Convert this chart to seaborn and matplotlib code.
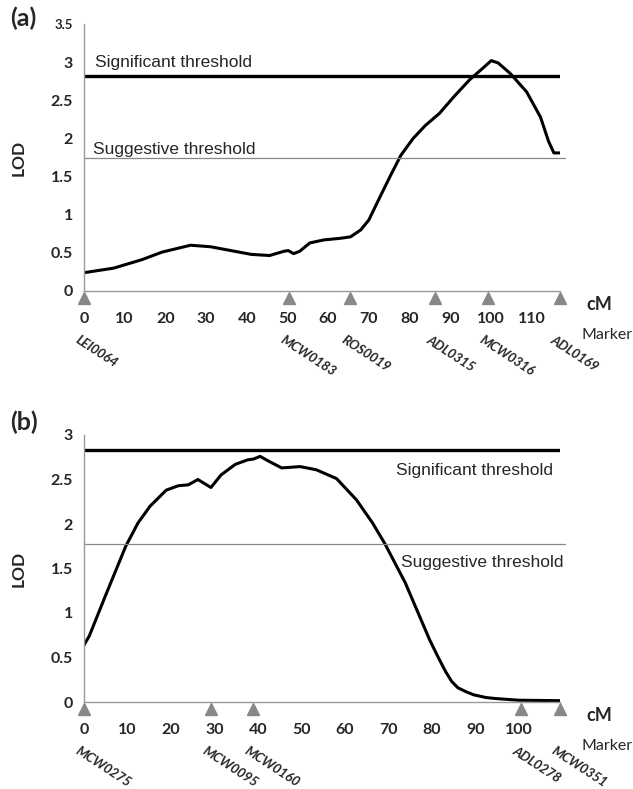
import matplotlib
matplotlib.use('Agg')
import matplotlib.pyplot as plt
from matplotlib.transforms import ScaledTranslation
import seaborn as sns
import pandas as pd
import numpy as np

# Panel (a) LOD profile
cm_a = [0, 7.3, 14.2, 19.2, 26.2, 31.1, 35.1, 41.1, 45.6, 49.1, 50.2, 51.5, 53.0, 55.5, 59.0,
        62.9, 65.5, 68.0, 70.0, 73.0, 75.4, 77.9, 80.9, 83.9, 87.4, 90.8, 94.8, 97.8, 100.1,
        101.8, 104.8, 108.8, 112.2, 114.2, 115.5, 116.9]
lod_a = [0.24, 0.30, 0.41, 0.51, 0.60, 0.58, 0.54, 0.48, 0.465, 0.52, 0.53, 0.49, 0.52, 0.63, 0.67,
         0.69, 0.71, 0.80, 0.93, 1.26, 1.52, 1.78, 2.00, 2.17, 2.33, 2.54, 2.77, 2.91, 3.02,
         2.99, 2.85, 2.61, 2.28, 1.96, 1.81, 1.81]
markers_a = ['LEI0064', 'MCW0183', 'ROS0019', 'ADL0315', 'MCW0316', 'ADL0169']
marker_cm_a = [0, 50.5, 65.4, 86.2, 99.3, 116.9]
sig_a, sug_a = 2.82, 1.74

# Panel (b) LOD profile
cm_b = [0, 1.2, 4.9, 9.6, 12.4, 15.2, 18.9, 21.7, 24.0, 26.2, 29.2, 31.5, 34.8, 37.6, 39.0,
        40.5, 42.7, 45.5, 49.7, 53.4, 58.1, 62.7, 66.4, 69.2, 73.9, 79.5, 81.4, 83.2, 84.6, 86.0,
        87.9, 89.7, 92.5, 94.4, 100.0, 109.5]
lod_b = [0.64, 0.74, 1.19, 1.75, 2.01, 2.20, 2.38, 2.43, 2.44, 2.50, 2.41, 2.55, 2.67, 2.72, 2.73,
         2.76, 2.70, 2.63, 2.645, 2.61, 2.51, 2.27, 2.01, 1.78, 1.34, 0.70, 0.51, 0.34, 0.23, 0.16,
         0.115, 0.08, 0.05, 0.04, 0.02, 0.015]
markers_b = ['MCW0275', 'MCW0095', 'MCW0160', 'ADL0278', 'MCW0351']
marker_cm_b = [0, 29.3, 38.8, 100.6, 109.5]
sig_b, sug_b = 2.83, 1.78

sns.set_style('white')
plt.rcParams['font.family'] = ['Liberation Sans', 'DejaVu Sans']

fig = plt.figure(figsize=(6.33, 7.89), dpi=100)
W, H = 633, 789
ax_a = fig.add_axes([84 / W, 1 - 291 / H, (560 - 84) / W, (291 - 24) / H])
ax_b = fig.add_axes([84 / W, 1 - 702 / H, (560 - 84) / W, (702 - 435) / H])


def draw_panel(ax, cm, lod, names, mpos, sig, sug, xmax, ymax, yticks, tag, tag_dy,
               sig_pos, sug_pos):
    df = pd.DataFrame({'cM': cm, 'LOD': lod})
    sns.lineplot(data=df, x='cM', y='LOD', ax=ax, color='black', lw=2.2)
    ax.axhline(sig, color='black', lw=2.4, xmax=1.0)
    ax.axhline(sug, color='#888888', lw=0.9, xmax=1.01, clip_on=False)
    ax.set_xlim(0, xmax)
    ax.set_ylim(0, ymax)
    ax.set_xticks(np.arange(0, xmax, 10))
    ax.set_yticks(yticks)
    ax.set_yticklabels([f'{t:g}' for t in yticks])
    for lab in ax.get_xticklabels() + ax.get_yticklabels():
        lab.set_fontfamily('Lato')
        lab.set_fontweight('bold')
        lab.set_fontsize(11.5)
    ax.tick_params(axis='x', direction='in', length=4, color='#888888', pad=15)
    ax.tick_params(axis='y', direction='out', length=4, color='#888888', pad=4)
    for s in ['top', 'right']:
        ax.spines[s].set_visible(False)
    for s in ['left', 'bottom']:
        ax.spines[s].set_color('#999999')
        ax.spines[s].set_linewidth(1)
    ax.set_xlabel('')
    ax.set_ylabel('LOD', fontdict=dict(family='Lato', weight='bold', size=12.5))
    ax.yaxis.set_label_coords(-0.12, 0.5)

    # marker triangles just below the axis
    trans = ax.get_xaxis_transform()
    ax.plot(mpos, [0] * len(mpos), linestyle='none', marker='^', ms=8.5,
            color='#888888', transform=trans + ScaledTranslation(0, -5 / 72, fig.dpi_scale_trans),
            clip_on=False)
    for name, x in zip(names, mpos):
        ax.annotate(name, xy=(x, 0), xycoords=trans, xytext=(-3, -31),
                    textcoords='offset points', rotation=-33, rotation_mode='anchor',
                    ha='left', va='top', fontstyle='italic', fontweight='bold',
                    fontsize=9.5, family='Lato')
    ax.annotate('cM', xy=(1, 0), xycoords='axes fraction', xytext=(28, -10),
                textcoords='offset points', ha='center', va='center',
                fontsize=13, weight='bold', family='Lato')
    ax.annotate('Marker', xy=(1, 0), xycoords='axes fraction', xytext=(52, -32),
                textcoords='offset points', ha='right', va='center',
                fontsize=11.5, family='Lato')
    ax.annotate(tag, xy=(0, 1), xycoords='axes fraction', xytext=(-53, tag_dy),
                textcoords='offset points', ha='left', va='center',
                fontsize=18, weight='bold', family='Lato')
    ax.text(sig_pos[0], sig_pos[1], 'Significant threshold', fontsize=12.5, va='center')
    ax.text(sug_pos[0], sug_pos[1], 'Suggestive threshold', fontsize=12.5, va='center')


draw_panel(ax_a, cm_a, lod_a, markers_a, marker_cm_a, sig_a, sug_a, 117, 3.5,
           [0, 0.5, 1, 1.5, 2, 2.5, 3, 3.5], '(a)', 4, (2.7, 2.99), (2.2, 1.86))
ax_a.get_yticklabels()[-1].set_fontsize(9.5)
draw_panel(ax_b, cm_b, lod_b, markers_b, marker_cm_b, sig_b, sug_b, 109.5, 3.0,
           [0, 0.5, 1, 1.5, 2, 2.5, 3], '(b)', 9, (71.7, 2.6), (73.0, 1.57))

fig.savefig('out.png', dpi=100)
